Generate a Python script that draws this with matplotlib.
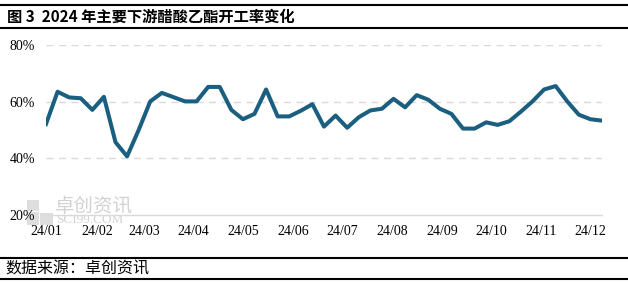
import matplotlib
matplotlib.use("Agg")
import matplotlib.pyplot as plt
from matplotlib.lines import Line2D
from matplotlib.patches import Rectangle

# weekly operating rate (%)
rates = [52.1, 63.5, 61.5, 61.2, 57.1, 61.7, 45.7, 40.7, 50.0, 60.1,
         63.1, 61.6, 60.1, 60.1, 65.2, 65.2, 57.1, 53.8, 55.7, 64.3,
         54.8, 54.8, 56.8, 59.1, 51.2, 55.1, 50.8, 54.5, 56.9, 57.5,
         61.0, 58.0, 62.3, 60.7, 57.5, 55.7, 50.5, 50.5, 52.7, 51.8,
         53.1, 56.5, 60.1, 64.3, 65.5, 60.1, 55.4, 53.8, 53.3]
month_labels = ["24/01", "24/02", "24/03", "24/04", "24/05", "24/06",
                "24/07", "24/08", "24/09", "24/10", "24/11", "24/12"]
y_ticks = [20, 40, 60, 80]
y_labels = ["20%", "40%", "60%", "80%"]

title = "图 3  2024 年主要下游醋酸乙酯开工率变化"
source = "数据来源：卓创资讯"

cjk = ["Noto Sans CJK SC", "DejaVu Sans"]

fig = plt.figure(figsize=(6.28, 2.83), dpi=100)
ax = fig.add_axes([46 / 628, 1 - 215 / 283, 556 / 628, 170 / 283])
ax.patch.set_alpha(0)

x = list(range(len(rates)))
ax.plot(x, rates, color="#1a5e80", lw=2.9, solid_joinstyle="round")

ax.set_xlim(0, len(rates) - 1)
ax.set_ylim(20, 80)
ax.set_yticks(y_ticks)
ax.set_yticklabels(y_labels, fontsize=10, family="Liberation Serif")
# month starts, in week units
tick_pos = [0, 4.45, 8.5, 12.75, 17, 21.3, 25.55, 29.85, 34.2, 38.45, 42.75, 47]
ax.set_xticks(tick_pos)
ax.set_xticklabels(month_labels, fontsize=10, family="Liberation Serif")
ax.tick_params(length=0)
ax.tick_params(axis="x", pad=7)
ax.tick_params(axis="y", pad=8)

for s in ["top", "right", "left"]:
    ax.spines[s].set_visible(False)
ax.spines["bottom"].set_color("#d9d9d9")
ax.spines["bottom"].set_linewidth(1)
for v in [40, 60, 80]:
    ax.axhline(v, color="#d9d9d9", lw=1, ls=(0, (5, 4)), zorder=0)

# title and source frame lines
for yy in [5.3, 28.3, 258.3, 279]:
    fig.add_artist(Line2D([0, 627 / 628], [1 - yy / 283] * 2, color="black", lw=1.5))
fig.text(7 / 628, 1 - 17 / 283, title, fontsize=11, fontweight="bold",
         family=cjk, va="center", ha="left")
fig.text(5 / 628, 1 - 269 / 283, source, fontsize=11.5, family=cjk,
         va="center", ha="left")

# watermark (behind the transparent axes)
for (wx, wy, ww, wh) in [(27, 200, 12, 11), (27, 212, 12, 13), (40, 213, 13, 12)]:
    fig.add_artist(Rectangle((wx / 628, 1 - (wy + wh) / 283), ww / 628, wh / 283,
                             color="#d6d6d6", alpha=0.8, lw=0, zorder=-1))
fig.text(55 / 628, 1 - 207 / 283, "卓创资讯", fontsize=14, family=cjk,
         color="#d2d2d2", va="center", ha="left", zorder=-1)
fig.text(56 / 628, 1 - 220 / 283, "SCI99.COM", fontsize=9.5, family="Liberation Serif",
         color="#d2d2d2", va="center", ha="left", zorder=-1)

fig.savefig("out.png", dpi=100)
